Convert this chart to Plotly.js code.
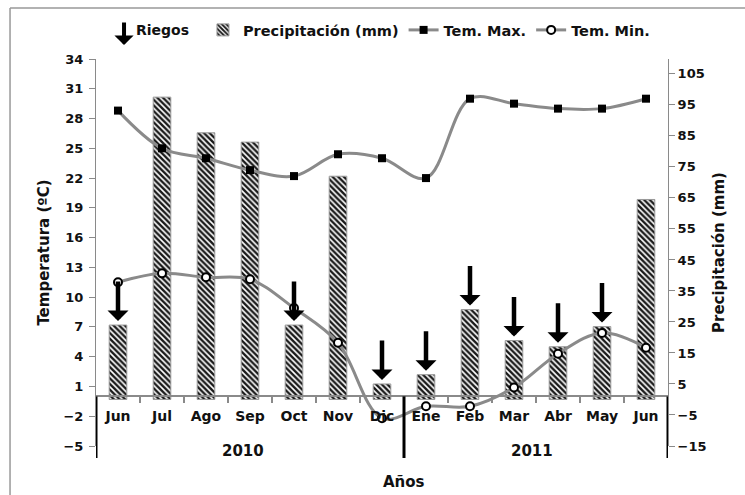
<!DOCTYPE html>
<html><head><meta charset="utf-8">
<script src="https://cdn.plot.ly/plotly-3.0.1.min.js"></script>
<style>html,body{margin:0;padding:0;background:#fff}#chart{width:745px;height:495px}</style>
</head><body><div id="chart"></div>
<script>
// ---- data ----
const years  = ['2010','2010','2010','2010','2010','2010','2010','2011','2011','2011','2011','2011','2011'];
const months = ['Jun','Jul','Ago','Sep','Oct','Nov','Dic','Ene','Feb','Mar','Abr','May','Jun'];
const precip = [24, 97.5, 86, 83, 24, 72, 5, 8, 29, 19, 17, 23.5, 64.5];     // mm
const tmax   = [28.8, 25.0, 24.0, 22.8, 22.2, 24.4, 24.0, 22.0, 30.0, 29.5, 29.0, 29.0, 30.0];
const tmin   = [11.5, 12.4, 12.0, 11.8, 8.9, 5.4, -2.2, -1.0, -1.0, 0.9, 4.3, 6.4, 4.9];
const riegos = [1, 0, 0, 0, 1, 0, 1, 1, 1, 1, 1, 1, 0];   // 1 = irrigation event
const yearLabels = ['2010', '2011'];
const tempTicks   = [-5,-2,1,4,7,10,13,16,19,22,25,28,31,34];
const precipTicks = [-15,-5,5,15,25,35,45,55,65,75,85,95,105];
const tempRange = [-5, 34];
const precipRange = [-15, 109.8];

const FONT = 'DejaVu Sans, Arial, sans-serif';
const GRAY = '#8a8a8a';
const xcat = months.map((m,i)=>m+' '+years[i]);
const zeroPos = (0 - tempRange[0]) / (tempRange[1] - tempRange[0]);
const n = months.length;
const bounds = []; for(let i=0;i<=n;i++) bounds.push(i-0.5);

const traces = [
  {type:'bar', name:'Precipitación (mm)', x:xcat, y:precip, yaxis:'y', xaxis:'x', width:0.4,
   marker:{color:'#fff', pattern:{shape:'\\', fgcolor:'#1a1a1a', bgcolor:'#ffffff', size:4, solidity:0.6},
           line:{color:'#999', width:1}}},
  {type:'scatter', mode:'lines+markers', name:'Tem. Max.', x:xcat, y:tmax, yaxis:'y2', xaxis:'x',
   line:{color:GRAY, width:3, shape:'spline', smoothing:1},
   marker:{symbol:'square', size:8, color:'#000'}},
  {type:'scatter', mode:'lines+markers', name:'Tem. Min.', x:xcat, y:tmin, yaxis:'y2', xaxis:'x',
   line:{color:GRAY, width:3, shape:'spline', smoothing:1},
   marker:{symbol:'circle', size:8, color:'#fff', line:{color:'#000', width:2}}}
];

const annotations = [];
riegos.forEach((r,i)=>{
  if(r) annotations.push({x:xcat[i], y:precip[i], xref:'x', yref:'y', text:'', showarrow:true,
    ax:0, ay:-45, standoff:4, arrowhead:1, arrowsize:0.78, arrowwidth:4.5, arrowcolor:'#000'});
});
// legend entry for Riegos
annotations.push({x:0.049, y:1.036, xref:'paper', yref:'paper', text:'', showarrow:true,
  ax:0, ay:-24, standoff:0, arrowhead:1, arrowsize:0.8, arrowwidth:4, arrowcolor:'#000'});
annotations.push({x:0.066, y:1.075, xref:'paper', yref:'paper', text:'Riegos', showarrow:false,
  xanchor:'left', yanchor:'middle', font:{family:FONT, size:14, weight:'bold', color:'#111'}});
// year labels and axis title
[[yearLabels[0], 2.85], [yearLabels[1], 9.4]].forEach(([t,xp])=>{
  annotations.push({x:xp, y:-0.013, xref:'x', yref:'paper', text:t, showarrow:false,
    xanchor:'center', yanchor:'middle', font:{family:FONT, size:15, weight:'bold', color:'#111'}});
});
annotations.push({x:6.5, y:-0.093, xref:'x', yref:'paper', text:'Años', showarrow:false,
  xanchor:'center', yanchor:'middle', font:{family:FONT, size:15, weight:'bold', color:'#111'}});

// year dividers
const shapes = [
  {type:'line', xref:'paper', yref:'paper', x0:-0.1503, x1:1.2, y0:1.1318, y1:1.1318, line:{color:'#999', width:1.5}},
  {type:'line', xref:'paper', yref:'paper', x0:-0.1503, x1:-0.1503, y0:-0.2, y1:1.1318, line:{color:'#999', width:1.5}}
];
[-0.5, 6.5, 12.5].forEach(xv=>{
  shapes.push({type:'line', xref:'x', yref:'paper', x0:xv, x1:xv, y0:zeroPos, y1:-0.031, line:{color:'#000', width:3}});
});

const tickFont = {family:FONT, size:13, weight:'bold', color:'#111'};
const layout = {
  width:745, height:495,
  margin:{l:96, r:77, t:59, b:49},
  paper_bgcolor:'#fff', plot_bgcolor:'rgba(0,0,0,0)',
  showlegend:true,
  legend:{orientation:'h', x:0.187, y:1.075, xanchor:'left', yanchor:'middle',
          font:{family:FONT, size:14.5, weight:'bold', color:'#111'}, bgcolor:'rgba(0,0,0,0)'},
  xaxis:{type:'category', anchor:'free', position:zeroPos, range:[-0.5,12.5],
         tickmode:'array', tickvals:xcat, ticktext:months,
         showline:true, linecolor:GRAY, linewidth:2, ticks:'outside', ticklen:6, tickcolor:GRAY, tickwidth:1.5,
         tickson:'boundaries', ticklabelstandoff:7,
         tickfont:{family:FONT, size:14, weight:'bold', color:'#111'}, showgrid:false, zeroline:false},
  xaxis2:{overlaying:'x', anchor:'free', position:zeroPos, range:[-0.5,12.5],
          tickmode:'array', tickvals:bounds,
          ticks:'inside', ticklen:6, tickcolor:GRAY, tickwidth:1.5, showticklabels:false, showline:false, showgrid:false, zeroline:false},
  yaxis:{side:'right', anchor:'x', range:precipRange, tickmode:'array', tickvals:precipTicks,
         showline:true, linecolor:GRAY, linewidth:1, ticks:'outside', ticklen:6, tickcolor:GRAY,
         tickfont:tickFont, showgrid:false, zeroline:false,
         title:{text:'Precipitación (mm)', standoff:7, font:{family:FONT, size:15, weight:'bold', color:'#111'}}},
  yaxis2:{overlaying:'y', side:'left', anchor:'x', range:tempRange, tickmode:'array', tickvals:tempTicks,
         showline:true, linecolor:GRAY, linewidth:1, ticks:'outside', ticklen:6, tickcolor:GRAY,
         tickfont:tickFont, showgrid:false, zeroline:false, ticklabelstandoff:3,
         title:{text:'Temperatura (ºC)', standoff:10, font:{family:FONT, size:15, weight:'bold', color:'#111'}}},
  yaxis3:{overlaying:'y', side:'left', anchor:'x', range:tempRange, tickmode:'array', tickvals:tempTicks,
         ticks:'inside', ticklen:6, tickcolor:GRAY, showticklabels:false, showline:false, showgrid:false, zeroline:false},
  yaxis4:{overlaying:'y', side:'right', anchor:'x', range:precipRange, tickmode:'array', tickvals:precipTicks,
         ticks:'inside', ticklen:6, tickcolor:GRAY, showticklabels:false, showline:false, showgrid:false, zeroline:false},
  shapes:shapes,
  annotations:annotations
};
Plotly.newPlot('chart', traces, layout, {displayModeBar:false, staticPlot:true});
</script></body></html>
